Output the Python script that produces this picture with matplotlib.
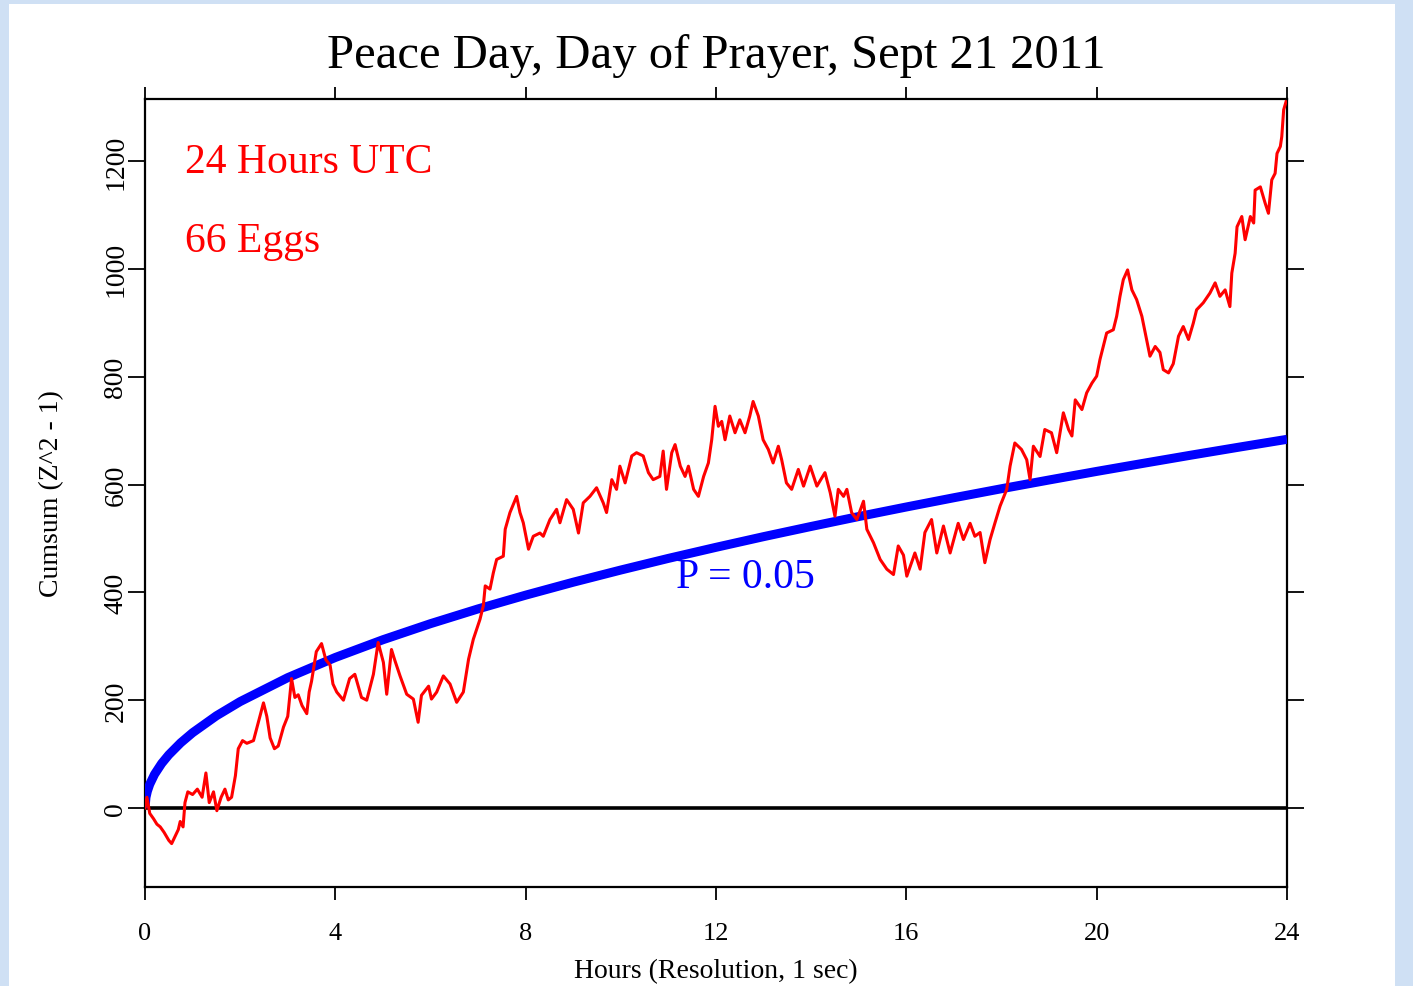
import matplotlib
matplotlib.use("Agg")
import matplotlib.pyplot as plt
from matplotlib.patches import Rectangle

# Cumulative deviation (sum of Z^2 - 1) over the day, in hours UTC
hours = [
    0.00, 0.04, 0.10, 0.18, 0.25, 0.32, 0.40, 0.50, 0.56, 0.62, 0.70, 0.74, 0.80,
    0.84, 0.90, 1.00, 1.10, 1.20, 1.28, 1.35, 1.44, 1.51, 1.60, 1.68, 1.75, 1.82,
    1.90, 1.96, 2.05, 2.14, 2.28, 2.40, 2.49, 2.56, 2.63, 2.72, 2.80, 2.91, 3.00,
    3.08, 3.15, 3.22, 3.30, 3.40, 3.45, 3.50, 3.60, 3.71, 3.80, 3.89, 3.95, 4.03,
    4.17, 4.30, 4.41, 4.55, 4.66, 4.80, 4.90, 5.01, 5.08, 5.18, 5.25, 5.36, 5.50,
    5.64, 5.74, 5.81, 5.96, 6.02, 6.13, 6.27, 6.41, 6.55, 6.69, 6.80, 6.90, 7.04,
    7.11, 7.15, 7.25, 7.32, 7.39, 7.53, 7.57, 7.67, 7.81, 7.88, 7.95, 8.06, 8.16,
    8.30, 8.37, 8.51, 8.65, 8.72, 8.86, 9.00, 9.11, 9.21, 9.35, 9.49, 9.63, 9.70,
    9.81, 9.91, 9.98, 10.09, 10.23, 10.33, 10.47, 10.58, 10.68, 10.82, 10.89,
    10.96, 11.07, 11.14, 11.25, 11.35, 11.42, 11.53, 11.63, 11.74, 11.84, 11.91,
    11.98, 12.05, 12.12, 12.19, 12.29, 12.40, 12.50, 12.61, 12.71, 12.78, 12.89,
    12.99, 13.10, 13.20, 13.31, 13.38, 13.48, 13.59, 13.73, 13.84, 13.98, 14.12,
    14.29, 14.40, 14.50, 14.57, 14.68, 14.75, 14.85, 14.96, 15.10, 15.17, 15.31,
    15.45, 15.59, 15.73, 15.83, 15.94, 16.01, 16.18, 16.29, 16.39, 16.53, 16.64,
    16.78, 16.92, 17.09, 17.20, 17.34, 17.44, 17.55, 17.65, 17.76, 17.86, 17.97,
    18.11, 18.18, 18.28, 18.42, 18.53, 18.60, 18.67, 18.81, 18.91, 19.05, 19.16,
    19.30, 19.41, 19.48, 19.55, 19.69, 19.79, 19.90, 20.00, 20.07, 20.21, 20.35,
    20.42, 20.49, 20.56, 20.65, 20.74, 20.84, 20.95, 21.05, 21.12, 21.23, 21.33,
    21.40, 21.51, 21.61, 21.72, 21.82, 21.93, 22.03, 22.10, 22.24, 22.38, 22.49,
    22.59, 22.70, 22.80, 22.84, 22.91, 22.95, 23.05, 23.12, 23.23, 23.30, 23.33,
    23.44, 23.54, 23.61, 23.68, 23.75, 23.79, 23.86, 23.89, 23.93, 23.98,
]
cumsum = [
    0, 20, -10, -20, -30, -35, -45, -60, -66, -55, -40, -25, -35,
    10, 30, 25, 35, 20, 65, 10, 30, -5, 20, 35, 15, 20,
    60, 110, 125, 120, 125, 165, 195, 170, 130, 110, 115, 150, 170,
    240, 205, 210, 190, 175, 215, 235, 290, 305, 275, 265, 230, 215,
    200, 240, 248, 205, 200, 248, 307, 270, 211, 294, 274, 245, 211,
    202, 159, 209, 226, 202, 215, 245, 230, 196, 215, 276, 313, 350,
    375, 412, 406, 436, 461, 467, 517, 548, 578, 548, 529, 480, 504,
    510, 504, 535, 554, 529, 572, 554, 510, 566, 578, 594, 566, 548,
    609, 591, 634, 603, 653, 659, 653, 622, 609, 615, 662,
    591, 659, 674, 634, 615, 634, 591, 578, 615, 640, 683,
    745, 708, 717, 683, 727, 696, 720, 696, 727, 754, 727,
    683, 665, 640, 671, 646, 603, 591, 628, 597, 634, 597,
    622, 585, 541, 591, 578, 591, 548, 535, 569, 517, 492,
    461, 443, 433, 486, 469, 430, 473, 443, 511, 535, 473,
    523, 473, 528, 498, 528, 504, 511, 455, 498, 528, 560,
    591, 634, 677, 665, 646, 609, 671, 652, 702, 696, 659,
    733, 702, 690, 757, 739, 770, 788, 801, 832, 881, 887,
    912, 949, 980, 998, 961, 943, 912, 869, 838, 856, 845,
    813, 807, 824, 875, 893, 869, 899, 924, 937, 955, 974,
    949, 961, 930, 992, 1029, 1078, 1097, 1054, 1097, 1085, 1146,
    1152, 1122, 1103, 1165, 1177, 1214, 1227, 1245, 1295, 1310,
]

# Expected cumsum at the P = 0.05 level
env_hours = [0, 0.02, 0.05, 0.1, 0.2, 0.35, 0.5, 0.75, 1, 1.5, 2, 3, 4, 5, 6, 7, 8,
             9, 10, 11, 12, 13, 14, 15, 16, 17, 18, 19, 20, 21, 22, 23, 24]
env_values = [0, 19.7, 31.2, 44.1, 62.4, 82.6, 98.7, 120.9, 139.6, 171.0, 197.4,
              241.8, 279.2, 312.1, 341.9, 369.3, 394.8, 418.8, 441.4, 463.0, 483.5,
              503.3, 522.2, 540.6, 558.3, 575.5, 592.2, 608.4, 624.3, 639.6, 654.7,
              669.4, 683.8]

x_ticks = [0, 4, 8, 12, 16, 20, 24]
y_ticks = [0, 200, 400, 600, 800, 1000, 1200]

title = "Peace Day, Day of Prayer, Sept 21 2011"
x_label = "Hours (Resolution, 1 sec)"
y_label = "Cumsum (Z^2 - 1)"
notes = ["24 Hours UTC", "66 Eggs"]
env_label = "P = 0.05"

SERIF = ["Liberation Serif", "DejaVu Serif"]
plt.rcParams["font.family"] = SERIF

W, H = 1413, 987
fig = plt.figure(figsize=(W / 100, H / 100), dpi=100, facecolor="#cfe0f4")
fig.patches.append(Rectangle((9 / W, 0), (1395 - 9) / W, 1 - 5 / H,
                             transform=fig.transFigure, facecolor="white",
                             edgecolor="none", zorder=-10))

ax = fig.add_axes([145 / W, 1 - 888 / H, (1287 - 145) / W, (888 - 100) / H])
ax.set_facecolor("white")

ax.axhline(0, color="black", lw=2.6, zorder=2)
ax.plot(env_hours, env_values, color="#0000ff", lw=6.5, zorder=3,
        solid_capstyle="butt")
ax.plot(hours, cumsum, color="#ff0000", lw=2.2, zorder=4)

ax.set_xlim(0, 24)
ax.set_ylim(-146.5, 1315)
ax.set_xticks(x_ticks)
ax.set_yticks(y_ticks)
ax.set_xticklabels([str(v) for v in x_ticks], fontsize=19)
ax.set_yticklabels([str(v) for v in y_ticks], fontsize=20, rotation=90,
                   va="center")

ax.tick_params(axis="x", which="both", direction="out", length=9, width=1.3,
               top=True, labeltop=False, pad=16)
ax.tick_params(axis="y", which="both", direction="out", length=12, width=1.3,
               right=True, labelright=False, pad=0)
for s in ax.spines.values():
    s.set_linewidth(1.6)

ax.set_xlabel(x_label, fontsize=20, labelpad=10)
ax.set_ylabel(y_label, fontsize=20, labelpad=28)
ax.set_title(title, fontsize=35, pad=23)

ax.text(0.84, 1198, notes[0], color="#ff0000", fontsize=30, va="center")
ax.text(0.84, 1052, notes[1], color="#ff0000", fontsize=30, va="center")
ax.text(11.15, 428, env_label, color="#0000ff", fontsize=30, va="center")

fig.savefig("out.png", dpi=100, facecolor=fig.get_facecolor())
